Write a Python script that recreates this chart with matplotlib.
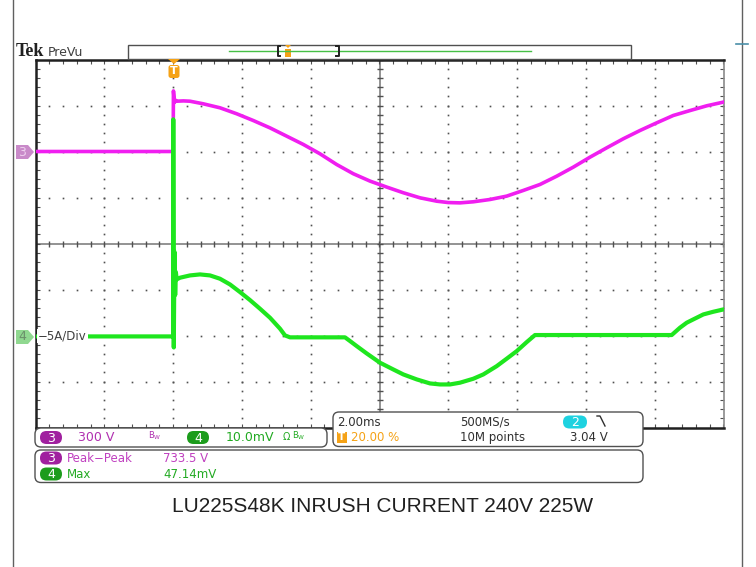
import numpy as np
import matplotlib
matplotlib.use("Agg")
import matplotlib.pyplot as plt
from matplotlib.patches import Polygon, FancyBboxPatch, Rectangle

# --- scope readings (time in ms, trigger at 0) ---
t_ch3 = [-4.0, -2.0, 0.0, 0.01, 0.04, 0.07, 0.10, 0.30, 0.49, 0.878, 1.363, 1.849,
         2.331, 2.817, 3.302, 3.785, 4.270, 4.756, 5.238, 5.724, 6.209, 6.692,
         7.177, 7.663, 8.0, 8.34, 8.727, 9.212, 9.698, 10.180, 10.666, 11.151,
         11.634, 12.119, 12.605, 13.087, 13.573, 14.058, 14.541, 15.026, 15.512,
         15.994]
v_ch3 = [0, 0, 0, 395, 320, 335, 328, 330, 328, 311, 285, 246,
         202, 154, 100, 46, -15, -85, -145, -193, -232, -269,
         -302, -324, -333, -335, -328, -313, -291, -254, -215, -161,
         -102, -37, 24, 83, 137, 187, 235, 267, 298,
         322]                      # volts

t_ch4 = [-4.0, 0.0, 0.005, 0.02, 0.04, 0.06, 0.08, 0.105, 0.20, 0.491, 0.782,
         1.073, 1.363, 1.654, 1.945, 2.235, 2.526, 2.817, 3.108, 3.253, 3.398,
         4.997, 5.142, 5.337, 5.628, 6.015, 6.401, 6.692, 7.081, 7.468, 7.759,
         8.049, 8.34, 8.727, 9.018, 9.407, 9.698, 9.988, 10.279, 10.52, 14.494,
         14.735, 14.93, 15.122, 15.413, 15.703, 15.994]
i_ch4 = [0, 0, 23.6, -1.2, 9.2, 4.5, 7.0, 6.2, 6.38, 6.63, 6.74,
         6.63, 6.27, 5.65, 4.82, 3.95, 3.01, 2.03, 0.84, 0.11, -0.1,
         -0.1, -0.5, -1.05, -1.85, -2.86, -3.59, -4.13, -4.67, -5.11, -5.22,
         -5.22, -5.03, -4.6, -4.13, -3.23, -2.42, -1.6, -0.62, 0.15, 0.15,
         0.95, 1.49, 1.85, 2.39, 2.68, 2.93]   # amps

ch3_scale, ch3_offset = 300.0, 2.0    # V/div, div
ch4_scale, ch4_offset = 5.0, -2.02    # A/div, div

title = "LU225S48K INRUSH CURRENT 240V 225W"

MAG = "#f01ef0"
GRN = "#1ee61e"
PURP = "#a0209f"
DGRN = "#1c9c1c"
ORG = "#f5a216"
CYAN = "#1ed2e0"
TXT = "#303030"

W, H = 756, 567
fig = plt.figure(figsize=(W / 100, H / 100), dpi=100)


def px_rect(x0, y0, x1, y1):
    return [x0 / W, 1 - y1 / H, (x1 - x0) / W, (y1 - y0) / H]


# graticule
ax = fig.add_axes(px_rect(35.5, 59.5, 723.5, 427.5))
ax.set_xlim(-4, 16)
ax.set_ylim(-4, 4)
ax.set_xticks(np.arange(-4, 16.01, 0.4))
ax.set_yticks(np.arange(-4, 4.01, 0.2))
ax.tick_params(direction="in", length=3, width=0.8, color="#505050",
               top=True, right=True, labelbottom=False, labelleft=False)
for s in ["top", "bottom", "left"]:
    ax.spines[s].set_color("#202020")
    ax.spines[s].set_linewidth(1.8)
ax.spines["right"].set_color("#8a8a8a")
ax.spines["right"].set_linewidth(1.2)

ys = np.arange(-4, 4.01, 0.2)
xs = np.arange(-4, 16.01, 0.4)
for xv in [-2, 0, 2, 4, 8, 10, 12, 14]:
    ax.plot(np.full(len(ys), xv), ys, ls="none", marker="s", ms=1.2,
            mew=0, color="#505050", zorder=1)
for yv in [-3, -2, -1, 1, 2, 3]:
    ax.plot(xs, np.full(len(xs), yv), ls="none", marker="s", ms=1.2,
            mew=0, color="#505050", zorder=1)
ax.axvline(6, color="#8a8a8a", lw=1.3, zorder=1)
ax.axhline(0, color="#8a8a8a", lw=1.3, zorder=1)
ax.plot(np.full(len(ys), 6), ys, ls="none", marker="_", ms=4.5, mew=1,
        color="#505050", zorder=1)
ax.plot(xs, np.zeros(len(xs)), ls="none", marker="|", ms=4.5, mew=1,
        color="#505050", zorder=1)

# traces
ax.plot(t_ch3, np.array(v_ch3) / ch3_scale + ch3_offset, color=MAG, lw=2.6,
        zorder=3, solid_joinstyle="round")
ax.plot(t_ch4, np.array(i_ch4) / ch4_scale + ch4_offset, color=GRN, lw=3.0,
        zorder=4, solid_joinstyle="round")

# overlay in pixel coordinates
ov = fig.add_axes([0, 0, 1, 1], zorder=5)
ov.set_xlim(0, W)
ov.set_ylim(H, 0)
ov.axis("off")
ov.patch.set_alpha(0)

FS = 8.5
ov.plot([13, 13], [0, H], color="#606060", lw=1)
ov.plot([742, 742], [0, H], color="#606060", lw=1)
ov.plot([736, 748], [44, 44], color="#4a8fa8", lw=1.2)

# top bar
ov.text(16, 51.5, "Tek", family="Liberation Serif", weight="bold", fontsize=13,
        va="center", ha="left", color="#202020")
ov.text(48, 52, "PreVu", fontsize=9, va="center", ha="left", color="#404040")
ov.add_patch(Rectangle((128, 44.5), 503, 14, fc="white", ec="#505050", lw=1))
ov.plot([229, 531], [51, 51], color="#46c046", lw=1)
ov.plot([280, 277.5, 277.5, 280], [46, 46, 56, 56], color="#202020", lw=1.4)
ov.plot([336, 338.5, 338.5, 336], [46, 46, 56, 56], color="#202020", lw=1.4)
ov.add_patch(Polygon([(285, 45), (291, 45), (288, 48)], fc=ORG, ec="none"))
ov.add_patch(Rectangle((285.2, 48.5), 5.6, 8, fc=ORG, ec="none"))

# trigger marker
ov.add_patch(Polygon([(168, 59), (180, 59), (174, 64)], fc=ORG, ec="none"))
ov.add_patch(FancyBboxPatch((168.5, 65), 11, 13,
                            boxstyle="round,pad=0,rounding_size=2.5",
                            fc=ORG, ec="none"))
ov.text(174, 71.5, "T", color="white", fontsize=8, weight="bold",
        ha="center", va="center")


# channel tags
def tag(y, fc, label, tc):
    ov.add_patch(Polygon([(16, y - 7), (28, y - 7), (34, y), (28, y + 7), (16, y + 7)],
                         fc=fc, ec="none"))
    ov.text(22, y, label, color=tc, fontsize=9, ha="center", va="center")


tag(152, "#c98ac9", "3", "#eed0ee")
tag(337, "#90d890", "4", "#6a8f6a")
ov.text(38, 336, "\u22125A/Div", fontsize=FS, color="#404040", ha="left", va="center",
        bbox=dict(fc="white", ec="none", pad=0.6))


def box(x0, y0, x1, y1):
    ov.add_patch(FancyBboxPatch((x0, y0), x1 - x0, y1 - y0,
                                boxstyle="round,pad=0,rounding_size=6",
                                fc="white", ec="#505050", lw=1))


def pill(xc, yc, label, fc, w=22, h=13):
    ov.add_patch(FancyBboxPatch((xc - w / 2, yc - h / 2), w, h,
                                boxstyle="round,pad=0,rounding_size=%g" % (h / 2),
                                fc=fc, ec="none"))
    ov.text(xc, yc + 0.5, label, color="white", fontsize=9, ha="center", va="center")


def txt(x, y, s, c=TXT, fs=FS):
    ov.text(x, y, s, color=c, fontsize=fs, ha="left", va="center")


# channel readout box
box(35, 428, 327, 447)
pill(51, 437.5, "3", PURP)
txt(78, 437.5, "300 V", "#b030b0", 9)
txt(148, 436, r"B$_{\mathsf{W}}$", "#b030b0", 6)
pill(198, 437.5, "4", DGRN)
txt(226, 437.5, "10.0mV", "#22aa22", 9)
txt(283, 437, "\u03a9", "#22aa22", 7)
txt(292, 436, r"B$_{\mathsf{W}}$", "#22aa22", 6)

# timebase box
box(333, 412, 643, 446.5)
txt(337, 422, "2.00ms")
txt(460, 422, "500MS/s")
pill(575, 422, "2", CYAN, w=24)
ov.plot([597, 600, 605], [416, 416, 426], color=TXT, lw=1)
ov.add_patch(Rectangle((337, 432), 10, 11, fc=ORG, ec="none"))
ov.text(342, 437.5, "T", color="white", fontsize=7.5, weight="bold",
        ha="center", va="center")
txt(351, 437.5, "20.00 %", ORG)
txt(460, 437.5, "10M points")
txt(570, 437.5, "3.04 V")

# measurement box
box(35, 450, 643, 482.5)
pill(51, 458, "3", PURP)
txt(67, 458, "Peak\u2212Peak", "#c040c0")
txt(163, 458, "733.5 V", "#c040c0")
pill(51, 474, "4", DGRN)
txt(67, 474, "Max", "#22aa22")
txt(163, 474, "47.14mV", "#22aa22")

ov.text(383, 506, title, family="Liberation Sans", fontsize=15,
        color="#202020", ha="center", va="center")

fig.savefig("out.png", dpi=100)
